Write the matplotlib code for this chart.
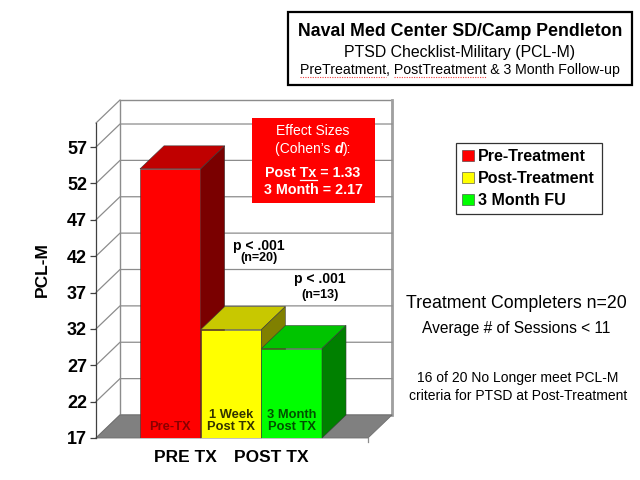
import matplotlib
matplotlib.use("Agg")
import matplotlib.pyplot as plt
from matplotlib.patches import Polygon, Rectangle

plt.rcParams['font.family'] = ['Liberation Sans', 'DejaVu Sans']

# ---------------- data ----------------
series = ["Pre-Treatment", "Post-Treatment", "3 Month FU"]
values = [54.0, 31.9, 29.3]
bar_labels = ["Pre-TX", "1 Week\nPost TX", "3 Month\nPost TX"]
yticks = [17, 22, 27, 32, 37, 42, 47, 52, 57]
group_labels = ["PRE TX", "POST TX"]
effect_lines = ["Effect Sizes", "Post Tx = 1.33", "3 Month = 2.17"]
pvals = [("p < .001", "(n=20)"), ("p < .001", "(n=13)")]
title_lines = ["Naval Med Center SD/Camp Pendleton",
               "PTSD Checklist-Military (PCL-M)",
               "PreTreatment, PostTreatment & 3 Month Follow-up"]
notes = ["Treatment Completers n=20", "Average # of Sessions < 11",
         "16 of 20 No Longer meet PCL-M", "criteria for PTSD at Post-Treatment"]

# ---------------- style ----------------
front_c = ["#FF0000", "#FFFF00", "#00FF00"]
top_c = ["#C00000", "#C8C800", "#00C400"]
side_c = ["#7A0000", "#808000", "#008000"]
lab_c = ["#8B0000", "#333300", "#005000"]
grid_c = "#8C8C8C"

W, H = 640, 480
fig = plt.figure(figsize=(6.4, 4.8), dpi=100)
fig.patch.set_facecolor("white")


def fx(px):
    return px / W


def fy(py):
    return 1 - py / H


L, R, T, B = 96, 368, 123, 438
ax = fig.add_axes([fx(L), fy(B), fx(R) - fx(L), fy(T) - fy(B)])
YMIN, YMAX = 17, 60.3
XMIN, XMAX = -1.225, 3.258
ax.set_xlim(XMIN, XMAX)
ax.set_ylim(YMIN, YMAX)
ax.patch.set_alpha(0)
ppx = (R - L) / (XMAX - XMIN)
ppy = (B - T) / (YMAX - YMIN)
DX = 24 / ppx
DY = 23 / ppy

# back wall
ax.add_patch(Rectangle((XMIN + DX, YMIN + DY), XMAX - XMIN, YMAX - YMIN,
                       fc="white", ec=grid_c, lw=1.0, clip_on=False, zorder=0.5))
ax.plot([XMAX + DX, XMAX + DX], [YMIN + DY, YMAX + DY], color="#A0A0A0",
        lw=2.0, clip_on=False, zorder=0.55)
for t in yticks:
    ax.plot([XMIN, XMIN + DX, XMAX + DX], [t, t + DY, t + DY], color=grid_c,
            lw=0.9, clip_on=False, zorder=0.6)
ax.plot([XMIN, XMIN + DX], [YMAX, YMAX + DY], color=grid_c, lw=0.9,
        clip_on=False, zorder=0.6)
# floor
ax.add_patch(Polygon([(XMIN, YMIN), (XMAX, YMIN), (XMAX + DX, YMIN + DY),
                      (XMIN + DX, YMIN + DY)], closed=True, fc="#808080",
                     ec="#6E6E6E", lw=0.6, clip_on=False, zorder=0.7))
ax.plot([XMAX, XMAX], [YMIN, YMIN - 0.6], color=grid_c, lw=0.9,
        clip_on=False, zorder=0.7)

# bars (front faces) + 3D top and side faces
xs = list(range(len(values)))
bars = ax.bar(xs, values, width=1.0, color=front_c, edgecolor="#3A3A3A",
              linewidth=0.4)
for i, (x, v) in enumerate(zip(xs, values)):
    z = 2 + i
    bars.patches[i].set_zorder(z)
    x0, x1 = x - 0.5, x + 0.5
    ax.add_patch(Polygon([(x0, v), (x1, v), (x1 + DX, v + DY), (x0 + DX, v + DY)],
                         closed=True, fc=top_c[i], ec="#3A3A3A", lw=0.4,
                         zorder=z, clip_on=False))
    ax.add_patch(Polygon([(x1, YMIN), (x1, v), (x1 + DX, v + DY),
                          (x1 + DX, YMIN + DY)], closed=True, fc=side_c[i],
                         ec="#3A3A3A", lw=0.4, zorder=z, clip_on=False))
    ax.annotate(bar_labels[i], xy=(x, YMIN), xytext=(0, 3.5),
                textcoords="offset points", ha="center", va="bottom",
                fontsize=9.3, fontweight="bold", color=lab_c[i],
                linespacing=1.0, zorder=10)

# axes styling
for s in ["top", "right", "bottom"]:
    ax.spines[s].set_visible(False)
ax.spines["left"].set_color("#404040")
ax.spines["left"].set_linewidth(0.9)
ax.set_xticks([])
ax.set_yticks(yticks)
ax.set_yticklabels([str(t) for t in yticks], fontsize=13, fontweight="bold")
ax.tick_params(axis="y", length=4, width=0.9, color="#404040", pad=2.5)

fig.text(fx(42), fy(270), "PCL-M", rotation=90, ha="center", va="center",
         fontsize=12.5, fontweight="bold")
for lab, px in zip(group_labels, [185, 271]):
    fig.text(fx(px), fy(457), lab, ha="center", va="center", fontsize=12.5,
             fontweight="bold")

# p-value annotations
for (p, n), (px, py1, py2) in zip(pvals, [(259, 246, 258), (320, 279, 295)]):
    fig.text(fx(px), fy(py1), p, ha="center", va="center", fontsize=10,
             fontweight="bold")
    fig.text(fx(px), fy(py2), n, ha="center", va="center", fontsize=9,
             fontweight="bold")

renderer = fig.canvas.get_renderer()


def tw(s, **kw):
    t = fig.text(0, 0, s, **kw)
    w = t.get_window_extent(renderer).width
    t.remove()
    return w


# effect size box
fig.add_artist(Rectangle((fx(252), fy(203)), fx(375) - fx(252), fy(118) - fy(203),
                         transform=fig.transFigure, fc="#FF0000", ec="none",
                         zorder=5))
ecx = 313
fig.text(fx(ecx), fy(131), effect_lines[0], ha="center", va="center",
         fontsize=10, color="white", zorder=6)
norm = dict(fontsize=10)
bi = dict(fontsize=10, fontweight="bold", style="italic")
p1, p2, p3 = "(Cohen\u2019s ", "d", "):"
w1 = tw(p1 + "x", **norm) - tw("x", **norm)
w2 = tw(p2, **bi)
w3 = tw(p3, **norm)
left = ecx - (w1 + w2 + w3) / 2
for s, kw, off in [(p1, norm, 0), (p2, bi, w1), (p3, norm, w1 + w2)]:
    fig.text(fx(left + off), fy(149), s, ha="left", va="center", color="white",
             zorder=6, **kw)
boldE = dict(fontsize=10.3, fontweight="bold")
fig.text(fx(ecx), fy(173), effect_lines[1], ha="center", va="center",
         color="white", zorder=6, **boldE)
wf = tw(effect_lines[1], **boldE)
lft = ecx - wf / 2
u0 = lft + tw("Post x", **boldE) - tw("x", **boldE)
u1 = lft + tw("Post Tx", **boldE)
fig.add_artist(plt.Line2D([fx(u0), fx(u1)], [fy(179.5), fy(179.5)],
                          transform=fig.transFigure, color="white", lw=0.9,
                          zorder=6))
fig.text(fx(ecx), fy(190), effect_lines[2], ha="center", va="center",
         color="white", zorder=6, **boldE)

# title box
fig.add_artist(Rectangle((fx(288), fy(85)), fx(632) - fx(288), fy(12) - fy(85),
                         transform=fig.transFigure, fc="white", ec="black",
                         lw=1.6))
tcx = 460
fig.text(fx(tcx), fy(31), title_lines[0], ha="center", va="center",
         fontsize=12.8, fontweight="bold")
fig.text(fx(tcx), fy(52), title_lines[1], ha="center", va="center",
         fontsize=11.4)
t3 = dict(fontsize=10.2)
fig.text(fx(tcx), fy(70), title_lines[2], ha="center", va="center", **t3)
w_all = tw(title_lines[2], **t3)
l3 = tcx - w_all / 2
s_a = l3
e_a = l3 + tw("PreTreatment", **t3)
s_b = l3 + tw("PreTreatment, x", **t3) - tw("x", **t3)
e_b = l3 + tw("PreTreatment, PostTreatment", **t3)
for a, b in [(s_a, e_a), (s_b, e_b)]:
    fig.add_artist(plt.Line2D([fx(a), fx(b)], [fy(76.5), fy(76.5)],
                              transform=fig.transFigure, color="#F04040",
                              lw=0.8, ls=(0, (1, 1.2))))

# legend
leg = fig.legend(handles=bars.patches, labels=series, loc="upper left",
                 bbox_to_anchor=(fx(456), fy(143)),
                 bbox_transform=fig.transFigure, frameon=True, fancybox=False,
                 edgecolor="black", prop=dict(size=11.5, weight="bold"),
                 handlelength=0.7, handleheight=0.7, handletextpad=0.3,
                 borderpad=0.4, labelspacing=0.42, borderaxespad=0)
leg.get_frame().set_linewidth(0.9)

# notes
fig.text(fx(516), fy(303), notes[0], ha="center", va="center", fontsize=12.8)
fig.text(fx(516), fy(329), notes[1], ha="center", va="center", fontsize=11.2)
fig.text(fx(518), fy(378), notes[2], ha="center", va="center", fontsize=10)
fig.text(fx(518), fy(396), notes[3], ha="center", va="center", fontsize=10)

fig.savefig("out.png", dpi=100)
